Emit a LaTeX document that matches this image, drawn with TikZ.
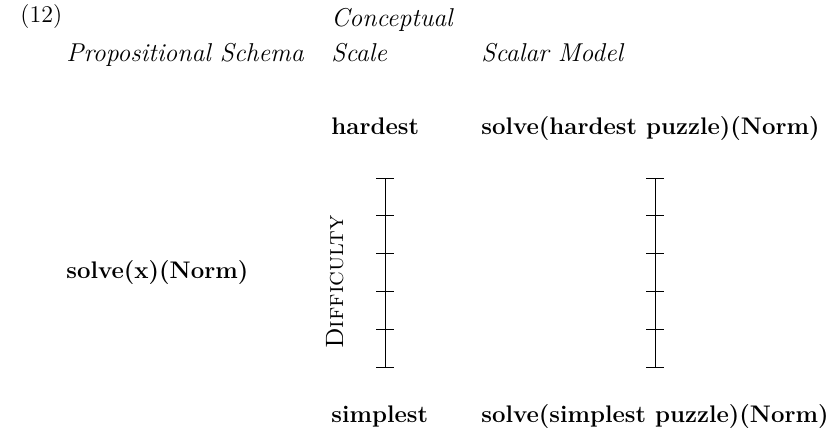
\documentclass[tikz,border=0pt]{standalone}
\usetikzlibrary{calc}
\begin{document}
\begin{tikzpicture}[x=0.5pt,y=-0.5pt,
  lbl/.style={anchor=base west,inner sep=0pt,font=\fontsize{12}{14}\selectfont},
  hdr/.style={lbl,font=\fontsize{12.9}{15}\selectfont\itshape},
  bf/.style={lbl,font=\fontsize{12}{14}\selectfont\bfseries},
  scaleline/.style={line width=0.45pt}]
\useasboundingbox (0,0) rectangle (830,435);
\node[lbl] (num) at (20,22) {(12)};
\node[hdr] (ps) at (66,61) {Propositional Schema};
\node[hdr] (cs1) at (331,26) {Conceptual};
\node[hdr] (cs2) at (331,61) {Scale};
\node[hdr] (sm) at (481,61) {Scalar Model};
\node[bf] (hard) at (331,134) {hardest};
\node[bf] (shard) at (481,134) {solve(hardest puzzle)(Norm)};
\node[bf] (sx) at (66,278) {solve(x)(Norm)};
\node[bf] (simp) at (331,422) {simplest};
\node[bf] (ssimp) at (481,422) {solve(simplest puzzle)(Norm)};
\node[lbl,anchor=base,rotate=90,font=\fontsize{12.5}{14}\selectfont\scshape] (diff) at (343,282) {Difficulty};
\foreach \xx/\nm in {385/a,655/b}{
  \coordinate (\nm top) at (\xx,178);
  \coordinate (\nm bot) at (\xx,367);
  \draw[scaleline] (\nm top) -- (\nm bot);
  \foreach \i in {0,...,5}{
    \draw[scaleline] ($(\nm top)!\i/5!(\nm bot)+(-9,0)$) -- ++(18,0);
  }
}
\end{tikzpicture}
\end{document}
